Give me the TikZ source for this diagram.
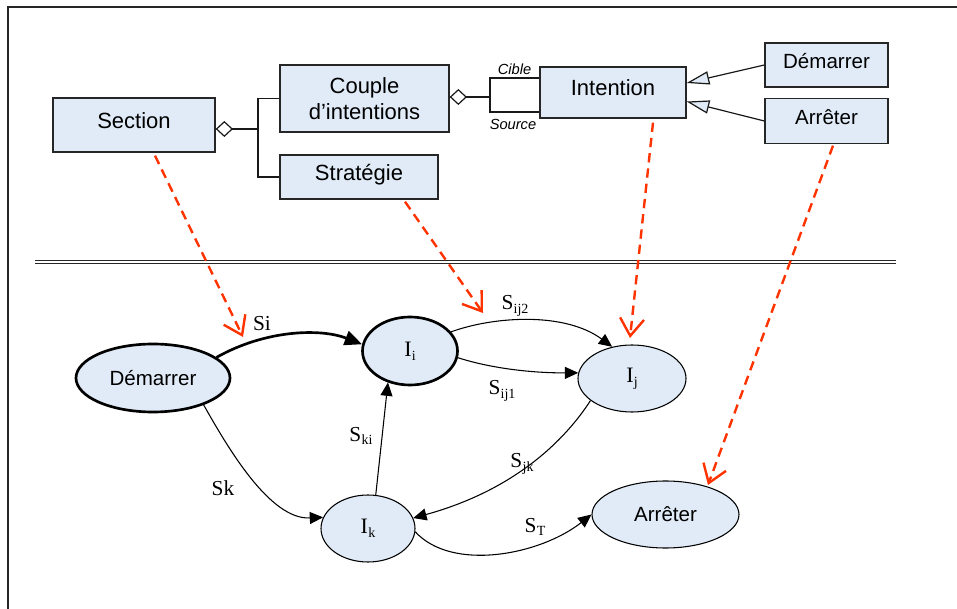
\documentclass[tikz,border=0pt]{standalone}
\usepackage{fontspec}
\setmainfont{Liberation Sans}
\newfontfamily\tms{Liberation Serif}
\usetikzlibrary{arrows.meta,shapes.geometric,calc}
\definecolor{boxfill}{RGB}{224,235,247}
\definecolor{tracered}{RGB}{255,51,0}
\newcommand\pxl{0.75pt}
% serif symbol with a lowered, smaller index
\newcommand\idx[2]{{\tms #1\kern0.2pt\raisebox{-0.38ex}{\fontsize{10.5}{10.5}\selectfont #2}}}

\begin{document}
\begin{tikzpicture}[x=0.75pt,y=-0.75pt,
  bigtext/.style={font=\fontsize{16.5}{20}\selectfont},
  smalltext/.style={font=\fontsize{15.4}{18}\selectfont},
  seriftext/.style={font=\tms\fontsize{16.5}{16.5}\selectfont},
  classbox/.style={draw=black!85, fill=boxfill, line width=1pt, inner sep=0pt,
    align=center, text height=0.75em, text depth=0.25em, bigtext},
  umlline/.style={draw=black!90, line width=0.9pt},
  aggr/.style={umlline, {Diamond[open, fill=white, length=13pt, width=12pt]}-},
  inherit/.style={umlline, -{Triangle[open, fill=boxfill, length=17pt, width=10pt]}},
  role/.style={font=\itshape\fontsize{11}{11}\selectfont, inner sep=0pt},
  state/.style={ellipse, draw=black, fill=boxfill, line width=0.8pt, inner sep=0pt, seriftext},
  keystate/.style={state, line width=2pt},
  trans/.style={draw=black, line width=0.8pt, -{Triangle[length=10pt, width=9pt]}},
  keytrans/.style={draw=black, line width=2pt, -{Triangle[length=13pt, width=11pt]}},
  lbl/.style={font=\tms\fontsize{16}{16}\selectfont, inner sep=0pt},
  trace/.style={draw=tracered, line width=1.8pt, dash pattern=on 7pt off 4.5pt,
    -{Straight Barb[length=13pt, width=18pt]}}
]
\useasboundingbox (0,0) rectangle (957,609);

% outer frame (left and top edges)
\draw[line width=1.4pt, black!85] (8,609) -- (8,7) -- (957,7);

% ---------- class diagram ----------
\node[classbox, minimum width=162*\pxl, minimum height=54*\pxl] (sec) at (134,125) {Section};
\node[classbox, text height=, text depth=, minimum width=169*\pxl, minimum height=67*\pxl] (cpl) at (364.5,98.5) {Couple\\d’intentions};
\node[classbox, minimum width=158*\pxl, minimum height=44*\pxl] (str) at (359,177) {Stratégie};
\node[classbox, minimum width=146*\pxl, minimum height=51*\pxl] (int) at (613,92.5) {Intention};
\node[classbox, smalltext, minimum width=123*\pxl, minimum height=44*\pxl] (dmb) at (826.5,65) {Démarrer};
\node[classbox, smalltext, minimum width=123*\pxl, minimum height=45*\pxl] (arb) at (826.5,121) {Arrêter};

% Section aggregates a couple of intentions and a strategy
\coordinate (j1) at (258,129);
\draw[aggr] (sec.east |- j1) -- (j1);
\draw[umlline] (cpl.west) -| (j1);
\draw[umlline] (str.west) -| (j1);

% the couple refers twice to Intention (target / source)
\coordinate (j2) at (490,97);
\coordinate (ycib) at (0,78);
\coordinate (ysrc) at (0,112);
\draw[aggr] (cpl.east |- j2) -- (j2);
\draw[umlline] (int.west |- ycib) -| (j2) |- (int.west |- ysrc);
\node[role] (cible) at (514.5,69) {Cible};
\node[role] (source) at (513,124) {Source};

% specialisations of Intention
\draw[inherit] (dmb.west) -- ($(int.east)+(0,-9.5)$);
\draw[inherit] (arb.west) -- ($(int.east)+(0,9)$);

% separator
\draw[black!85, line width=1pt, double=white, double distance=1.3pt] (35,262) -- (896,262);

% ---------- process map ----------
\node[keystate, smalltext, minimum width=154*\pxl, minimum height=68*\pxl] (dem) at (153,378) {Démarrer};
\node[keystate, minimum width=95*\pxl, minimum height=68*\pxl] (ii) at (410,351) {\idx{I}{i}};
\node[state, minimum width=108*\pxl, minimum height=67*\pxl] (ij) at (632,378.5) {\idx{I}{j}};
\node[state, minimum width=94*\pxl, minimum height=67*\pxl] (ik) at (368,528.5) {\idx{I}{k}};
\node[state, smalltext, minimum width=147*\pxl, minimum height=67*\pxl] (arr) at (665.5,514.5) {Arrêter};

\draw[keytrans] (dem.18) .. controls (265,330) and (320,328) .. (ii.172);
\draw[trans] (ii.25) .. controls (495,316) and (565,312) .. (ij.122);
\draw[trans] (ii.-8) .. controls (490,368) and (530,373) .. (ij.174);
\draw[trans] (ij.208) .. controls (565,440) and (515,490) .. (ik.13);
\draw[trans] (ik.77) -- (ii.235);
\draw[trans] (dem.-28) .. controls (228,448) and (270,520) .. (ik.166);
\draw[trans] (ik.-4) .. controls (452,572) and (540,555) .. (arr.180);

\node[lbl] (lsi) at (262,324) {Si};
\node[lbl] (lsij2) at (515,306) {\idx{S}{ij2}};
\node[lbl] (lsij1) at (502,391) {\idx{S}{ij1}};
\node[lbl] (lsjk) at (522,464) {\idx{S}{jk}};
\node[lbl] (lst) at (535,527) {\idx{S}{T}};
\node[lbl] (lski) at (361,436) {\idx{S}{ki}};
\node[lbl] (lsk) at (223,488) {Sk};

% ---------- traces from concepts to their instances ----------
\coordinate (t1) at (243,337);
\coordinate (t2) at (483,313);
\coordinate (t3) at (630,338);
\coordinate (t4) at (708,485);
\draw[trace] ($(sec.south)+(21,3)$) -- (t1);
\draw[trace] ($(str.south)+(46,2)$) -- (t2);
\draw[trace] ($(int.south)+(40,4)$) -- (t3);
\draw[trace] ($(arb.south)+(6.5,1.5)$) -- (t4);
\end{tikzpicture}
\end{document}
